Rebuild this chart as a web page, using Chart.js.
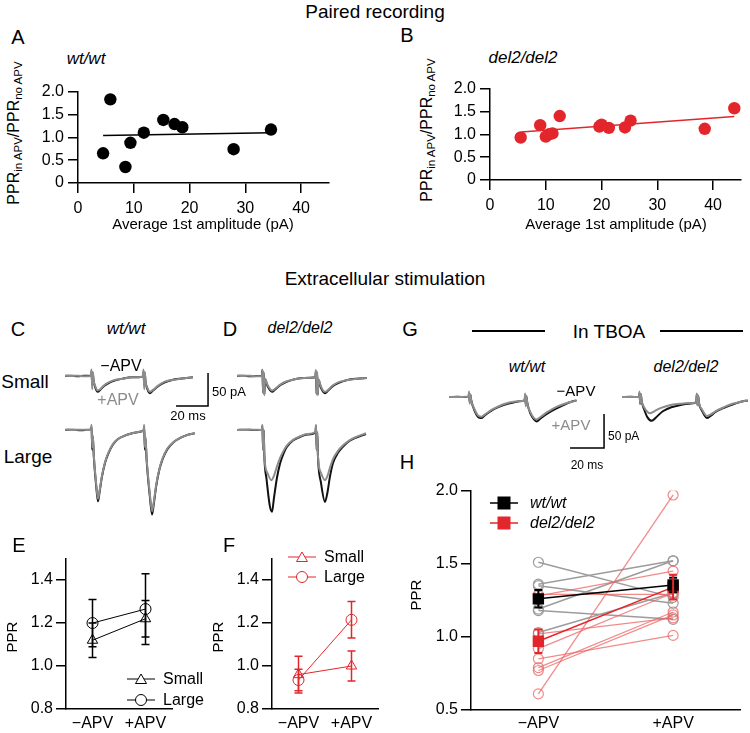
<!DOCTYPE html>
<html><head><meta charset="utf-8">
<script src="https://cdn.jsdelivr.net/npm/chart.js@4/dist/chart.umd.min.js"></script>
<style>
html,body{margin:0;padding:0;background:#fff;}
#root{position:relative;width:750px;height:733px;overflow:hidden;font-family:"Liberation Sans",Arial,sans-serif;color:#000;}
canvas{position:absolute;}
.t{position:absolute;white-space:nowrap;transform:translate(-50%,-50%);line-height:1;}
.l{position:absolute;white-space:nowrap;transform:translate(0,-50%);line-height:1;}
.rot{position:absolute;white-space:nowrap;transform:translate(-50%,-50%) rotate(-90deg);line-height:1;}
.rot sub{font-size:72%;vertical-align:-0.25em;}
svg{position:absolute;overflow:visible;}
</style></head>
<body><div id="root"></div>
<script>
// ---------------- DATA ----------------
// Panel A (wt/wt): average 1st amplitude (pA) vs PPR ratio
const aAmp   = [4.5, 5.8, 8.5, 9.4, 11.8, 15.3, 17.3, 18.7, 27.9, 34.6];
const aRatio = [0.65, 1.83, 0.35, 0.88, 1.10, 1.38, 1.29, 1.22, 0.74, 1.17];
const aFitX  = [4.5, 34.6];
const aFitY  = [1.04, 1.10];
// Panel B (del2/del2)
const bAmp   = [5.5, 9.0, 10.0, 10.6, 11.2, 12.5, 19.6, 20.0, 21.3, 24.2, 25.2, 38.5, 43.8];
const bRatio = [0.93, 1.20, 0.95, 1.00, 1.02, 1.40, 1.17, 1.21, 1.14, 1.15, 1.30, 1.12, 1.57];
const bFitX  = [5.6, 43.8];
const bFitY  = [1.05, 1.39];
const scatterXTicks = [0, 10, 20, 30, 40];
const scatterYTicks = [0, 0.5, 1.0, 1.5, 2.0];

// Traces: [time (ms), current (pA)]
const cSmallBlack = [[0,0],[4,0.5],[8,-0.5],[12,0.5],[16,0],[16.6,6],[17,-14],[17.4,4],[17.8,-6],[19,-18],[20.5,-24],[22,-21],[24,-16],[27,-11],[31,-7],[36,-4],[42,-2],[48.5,-1],[49.1,6],[49.5,-14],[49.9,4],[50.3,-8],[51.5,-20],[53,-26],[55,-22],[58,-16],[62,-10],[67,-6],[72,-4],[76,-3],[80,-2]];
const cSmallGray  = [[0,0.5],[4,0],[8,0.5],[12,-0.5],[16,0],[16.6,10],[17,-20],[17.4,6],[17.8,-5],[19,-16],[20.5,-22],[22,-20],[24,-15],[27,-10],[31,-6],[36,-4],[42,-2],[48.5,-1],[49.1,10],[49.5,-20],[49.9,6],[50.3,-7],[51.5,-18],[53,-24],[55,-21],[58,-15],[62,-9],[67,-6],[72,-4],[76,-3],[80,-2]];
const cLargeBlack = [[0,0],[5,0.5],[10,-0.5],[15,0.5],[16.3,0],[16.6,5],[17,-30],[17.4,-10],[18,-40],[19.5,-85],[20.6,-108],[21.5,-96],[23,-72],[25,-50],[27,-36],[30,-22],[33,-14],[37,-9],[42,-5],[48,-2],[49.2,0],[49.5,5],[49.9,-30],[50.3,-12],[51,-45],[53,-100],[54.4,-128],[55.5,-112],[57,-85],[59,-60],[61,-44],[64,-29],[68,-18],[72,-12],[77,-7],[81,-5]];
const cLargeGray  = [[0,0.5],[5,0],[10,0.5],[15,0],[16.3,0],[16.6,8],[17,-26],[17.4,-8],[18,-38],[19.5,-82],[20.6,-104],[21.5,-94],[23,-71],[25,-49],[27,-35],[30,-21],[33,-14],[37,-9],[42,-5],[48,-2],[49.2,0],[49.5,8],[49.9,-26],[50.3,-10],[51,-42],[53,-96],[54.4,-123],[55.5,-109],[57,-83],[59,-59],[61,-43],[64,-28],[68,-18],[72,-12],[77,-7],[81,-5]];
const dSmallBlack = [[0,0],[4,0.5],[8,-0.5],[12,0],[15.6,0],[15.9,9],[16.3,-25],[16.7,5],[17.1,-28],[17.5,-5],[19,-15],[21.9,-24],[24,-20],[27,-14],[31,-9],[36,-5],[42,-3],[49,-2],[49.3,8],[49.7,-27],[50.1,5],[50.5,-28],[50.9,-6],[52.5,-18],[55,-26],[57,-22],[60,-15],[64,-10],[69,-6],[75,-4],[81,-3]];
const dSmallGray  = [[0,0.5],[4,0],[8,0.5],[12,-0.5],[15.6,0],[15.9,10],[16.3,-26],[16.7,6],[17.1,-29],[17.5,-4],[19,-13],[21.9,-22],[24,-19],[27,-13],[31,-8],[36,-5],[42,-3],[49,-2],[49.3,9],[49.7,-28],[50.1,6],[50.5,-29],[50.9,-5],[52.5,-16],[55,-24],[57,-21],[60,-14],[64,-9],[69,-6],[75,-4],[81,-3]];
const dLargeBlack = [[0,0],[5,0.5],[10,0],[15.5,0.5],[15.9,6],[16.3,-30],[16.7,0],[17.1,-40],[18.5,-75],[20.5,-115],[21.9,-124],[23,-105],[25,-72],[27,-50],[29,-36],[31,-26],[35,-16],[39,-11],[44,-7],[49,-4],[49.4,6],[49.8,-30],[50.2,-4],[50.6,-40],[52.5,-80],[55,-109],[56.5,-95],[58,-72],[60,-50],[63,-35],[66,-26],[70,-17],[75,-11],[80.6,-6]];
const dLargeGray  = [[0,0],[5,0],[10,0.5],[15.5,0],[15.9,8],[16.3,-30],[16.7,0],[17.1,-40],[19,-65],[21.5,-76],[23,-70],[25,-55],[27,-42],[29,-32],[31,-24],[35,-15],[39,-10],[44,-6],[49,-3],[49.4,8],[49.8,-30],[50.2,-3],[50.6,-40],[52.5,-65],[55,-76],[56.5,-70],[58,-58],[60,-44],[63,-32],[66,-24],[70,-16],[75,-10],[80.6,-5]];
const gWtBlack  = [[0,0],[5,0.3],[10,0],[11.5,0],[11.8,6],[12.2,-8],[12.6,3],[13,-4],[15,-20],[17,-29],[19,-31],[21,-27],[25,-20],[29,-15],[33,-11],[38,-8],[43,-6],[44.5,-5],[44.8,3],[45.2,-12],[45.6,0],[46,-8],[48,-25],[50,-33],[51.5,-36],[54,-31],[58,-24],[63,-17],[68,-11],[72,-7],[75,-5]];
const gWtGray   = [[0,0],[5,0],[10,0.3],[11.5,0],[11.8,8],[12.2,-10],[12.6,4],[13,-4],[15,-18],[17,-27],[19,-29],[21,-26],[25,-19],[29,-14],[33,-10],[38,-7],[43,-6],[44.5,-5],[44.8,5],[45.2,-14],[45.6,2],[46,-8],[48,-23],[50,-31],[51.5,-33],[54,-29],[58,-22],[63,-15],[68,-10],[72,-7],[75,-5]];
const gDelBlack = [[0,0],[5,0.3],[10,0],[10.3,6],[10.7,-10],[11.1,4],[11.5,-5],[13,-18],[15,-30],[17.5,-35],[20,-30],[24,-21],[29,-15],[34,-12],[39,-10],[43.7,-8],[44,4],[44.4,-12],[44.8,2],[45.2,-8],[47,-20],[50,-31],[52,-28],[55,-22],[60,-16],[65,-11],[70,-7],[74,-5]];
const gDelGray  = [[0,0],[5,0],[10,0.3],[10.3,8],[10.7,-10],[11.1,4],[11.5,-5],[13,-15],[15,-22],[16.5,-24],[19,-21],[23,-16],[28,-12],[34,-10],[39,-9],[43.7,-8],[44,5],[44.4,-12],[44.8,2],[45.2,-8],[47,-18],[50,-28],[52,-26],[55,-21],[60,-15],[65,-10],[70,-7],[74,-5]];
// Scale bars [time, current]
const cScaleBar = [[69.4,-45.5],[89.4,-45.5],[89.4,4.5]];
const gScaleBar = [[71.2,-75],[91.2,-75],[91.2,-25]];

// Panels E/F
const condLabels = ['\u2212APV', '+APV'];
const eSmall = [1.12, 1.22],  eSmallErr = [0.08, 0.085];
const eLarge = [1.20, 1.265], eLargeErr = [0.11, 0.165];
const fSmall = [0.96, 1.00],  fSmallErr = [0.085, 0.07];
const fLarge = [0.935, 1.215], fLargeErr = [0.05, 0.085];
const efYTicks = [0.8, 1.0, 1.2, 1.4];

// Panel H
const hWtMinus  = [1.51, 1.36, 1.35, 1.19, 1.18, 1.03];
const hWtPlus   = [1.27, 1.52, 1.23, 1.52, 1.12, 1.30];
const hDelMinus = [0.61, 0.77, 0.79, 0.85, 0.92, 1.02, 1.28, 1.29];
const hDelPlus  = [1.97, 1.15, 1.17, 1.01, 1.30, 1.13, 1.45, 1.29];
const hWtMean = [1.26, 1.355],  hWtErr = [0.06, 0.05];
const hDelMean = [0.97, 1.34], hDelErr = [0.08, 0.085];
const hYTicks = [0.5, 1.0, 1.5, 2.0];

// ---------------- SETUP ----------------
const FONT = '"Liberation Sans", Arial, sans-serif';
Chart.defaults.font.family = FONT;
Chart.defaults.font.size = 16;
Chart.defaults.color = '#000';
const RED = '#e3262b', PINK = 'rgba(236,100,100,0.75)', GRAYL = '#9c9c9c', TGRAY = '#8c8c8c';
const TICKFONT = {size: 16, family: FONT};
const root = document.getElementById('root');

function mkCanvas(left, top, w, h) {
  const c = document.createElement('canvas');
  c.width = w; c.height = h;
  c.style.left = left + 'px'; c.style.top = top + 'px';
  c.style.width = w + 'px'; c.style.height = h + 'px';
  root.appendChild(c);
  return c;
}
function txt(s, x, y, size, opts = {}) {
  const d = document.createElement('div');
  d.className = opts.cls || 't';
  d.style.left = x + 'px'; d.style.top = y + 'px';
  d.style.fontSize = size + 'px';
  if (opts.italic) d.style.fontStyle = 'italic';
  if (opts.color) d.style.color = opts.color;
  if (opts.html) d.innerHTML = s; else d.textContent = s;
  root.appendChild(d);
  return d;
}
function svg(x, y, w, h, inner) {
  const ns = 'http://www.w3.org/2000/svg';
  const s = document.createElementNS(ns, 'svg');
  s.setAttribute('width', w); s.setAttribute('height', h);
  s.style.left = x + 'px'; s.style.top = y + 'px';
  s.innerHTML = inner;
  root.appendChild(s);
}
const pts = arr => arr.map(([x, y]) => ({x, y}));
const zip = (xs, ys) => xs.map((x, i) => ({x, y: ys[i]}));

const errPlugin = {
  id: 'errbars',
  afterDatasetsDraw(chart) {
    const ctx = chart.ctx, ys = chart.scales.y;
    chart.data.datasets.forEach((ds, i) => {
      if (!ds.errors) return;
      const meta = chart.getDatasetMeta(i);
      ctx.save();
      ctx.strokeStyle = ds.errColor || ds.borderColor;
      ctx.lineWidth = ds.errWidth || 1.5;
      meta.data.forEach((p, j) => {
        const v = ds.data[j], e = ds.errors[j];
        const y1 = ys.getPixelForValue(v + e), y2 = ys.getPixelForValue(v - e);
        const cw = ds.capW || 4;
        ctx.beginPath();
        ctx.moveTo(p.x, y1); ctx.lineTo(p.x, y2);
        ctx.moveTo(p.x - cw, y1); ctx.lineTo(p.x + cw, y1);
        ctx.moveTo(p.x - cw, y2); ctx.lineTo(p.x + cw, y2);
        ctx.stroke();
      });
      ctx.restore();
    });
  }
};

const base = {responsive: false, animation: false, events: [],
  plugins: {legend: {display: false}, tooltip: {enabled: false}}};

function axisCommon(extra, pad) {
  return Object.assign({
    grid: {drawOnChartArea: false, drawTicks: true, tickLength: 10, color: '#000', lineWidth: 1.5},
    border: {color: '#000', width: 1.5},
    ticks: {color: '#000', font: TICKFONT, padding: pad, maxRotation: 0, autoSkip: false}
  }, extra);
}

// ---------- Scatter panels A & B ----------
function scatterPanel(left, top, xs, ys, fx, fy, color) {
  const c = mkCanvas(left, top, 50 + 251 + 8, 10 + 95 + 40);
  new Chart(c, {
    type: 'scatter',
    data: {datasets: [
      {data: zip(xs, ys), pointRadius: 6.2, pointBackgroundColor: color, pointBorderColor: color, pointBorderWidth: 0},
      {data: zip(fx, fy), showLine: true, borderColor: color, borderWidth: 1.5, pointRadius: 0}
    ]},
    options: Object.assign({}, base, {
      layout: {padding: {top: 10, right: 8, left: 0, bottom: 0}},
      scales: {
        x: axisCommon({type: 'linear', min: 0, max: 45,
          afterBuildTicks: s => { s.ticks = scatterXTicks.map(v => ({value: v})); },
          afterFit: s => { s.height = 40; }}, 6),
        y: axisCommon({type: 'linear', min: 0, max: 2,
          afterBuildTicks: s => { s.ticks = scatterYTicks.map(v => ({value: v})); },
          afterFit: s => { s.width = 50; }}, 4)
      }
    })
  });
}
scatterPanel(28, 78, aAmp, aRatio, aFitX, aFitY, '#000');
scatterPanel(440, 75, bAmp, bRatio, bFitX, bFitY, RED);

// ---------- Trace panels ----------
function tracePanel(left, top, w, h, x0, y0, pxT, pxI, sets) {
  const c = mkCanvas(left, top, w, h);
  new Chart(c, {
    type: 'line',
    data: {datasets: sets.map(s => ({
      data: pts(s.d), borderColor: s.c, borderWidth: s.w || 2, pointRadius: 0,
      cubicInterpolationMode: s.bar ? 'default' : 'monotone', tension: 0, fill: false
    }))},
    options: Object.assign({}, base, {
      layout: {padding: 0},
      scales: {
        x: {type: 'linear', display: false, min: (left - x0) / pxT, max: (left + w - x0) / pxT},
        y: {type: 'linear', display: false, min: -(top + h - y0) / pxI, max: (y0 - top) / pxI}
      }
    })
  });
}
const CT = 1.6, CI = 0.66, GT = 1.7, GI = 0.68;
tracePanel(58, 352, 160, 62, 65, 376, CT, CI, [
  {d: cSmallGray, c: TGRAY}, {d: cSmallBlack, c: '#111'}, {d: cScaleBar, c: '#000', w: 1.5, bar: true}]);
tracePanel(58, 418, 145, 102, 65, 430, CT, CI, [
  {d: cLargeGray, c: TGRAY}, {d: cLargeBlack, c: '#111'}]);
tracePanel(230, 352, 145, 50, 237, 376, CT, CI, [
  {d: dSmallGray, c: TGRAY}, {d: dSmallBlack, c: '#111'}]);
tracePanel(230, 418, 145, 102, 237, 430, CT, CI, [
  {d: dLargeGray, c: TGRAY}, {d: dLargeBlack, c: '#111'}]);
tracePanel(442, 380, 170, 75, 449, 397, GT, GI, [
  {d: gWtGray, c: TGRAY}, {d: gWtBlack, c: '#111'}, {d: gScaleBar, c: '#000', w: 1.5, bar: true}]);
tracePanel(615, 380, 135, 50, 622, 397, GT, GI, [
  {d: gDelGray, c: TGRAY}, {d: gDelBlack, c: '#111'}]);

// ---------- E & F ----------
function ppPanel(left, color, small, smallErr, large, largeErr) {
  const c = mkCanvas(left, 546, 50 + 107 + 6, 10 + 153 + 24);
  const mk = (d, e, style, r) => ({data: d, errors: e, borderColor: color, borderWidth: 1,
    pointStyle: style, pointRadius: r, pointBorderColor: color, pointBorderWidth: 1,
    pointBackgroundColor: 'rgba(255,255,255,0)', errWidth: 1.5, capW: 4});
  new Chart(c, {
    type: 'line',
    data: {labels: condLabels, datasets: [mk(small, smallErr, 'triangle', 6), mk(large, largeErr, 'circle', 5.5)]},
    options: Object.assign({}, base, {
      layout: {padding: {top: 10, right: 6}},
      scales: {
        x: axisCommon({type: 'category', offset: true,
          grid: {drawOnChartArea: false, drawTicks: false, color: '#000'},
          afterFit: s => { s.height = 24; }}, 5),
        y: axisCommon({type: 'linear', min: 0.8, max: 1.5,
          afterBuildTicks: s => { s.ticks = efYTicks.map(v => ({value: v})); },
          afterFit: s => { s.width = 50; }}, 3)
      }
    }),
    plugins: [errPlugin]
  });
}
ppPanel(16, '#000', eSmall, eSmallErr, eLarge, eLargeErr);
ppPanel(222, RED, fSmall, fSmallErr, fLarge, fLargeErr);

// ---------- H ----------
(function () {
  const c = mkCanvas(421, 478, 50 + 274 + 4, 10 + 222 + 23);
  const ds = [];
  ds.push({data: hWtMean, errors: hWtErr, borderColor: '#000', borderWidth: 1.5, pointStyle: 'rect', pointRadius: 7,
    pointBackgroundColor: '#000', pointBorderColor: '#000', errWidth: 2, capW: 4, order: 0});
  ds.push({data: hDelMean, errors: hDelErr, borderColor: RED, borderWidth: 1.5, pointStyle: 'rect', pointRadius: 7,
    pointBackgroundColor: RED, pointBorderColor: RED, errWidth: 2, capW: 4, order: 0});
  hDelMinus.forEach((v, i) => ds.push({data: [v, hDelPlus[i]], borderColor: PINK, borderWidth: 1.3, pointRadius: 5,
    pointBorderColor: PINK, pointBorderWidth: 1.2, pointBackgroundColor: 'rgba(0,0,0,0)', order: 1}));
  hWtMinus.forEach((v, i) => ds.push({data: [v, hWtPlus[i]], borderColor: GRAYL, borderWidth: 1.5, pointRadius: 5,
    pointBorderColor: GRAYL, pointBorderWidth: 1.2, pointBackgroundColor: 'rgba(0,0,0,0)', order: 2}));
  new Chart(c, {
    type: 'line',
    data: {labels: condLabels, datasets: ds},
    options: Object.assign({}, base, {
      layout: {padding: {top: 10, right: 4}},
      scales: {
        x: axisCommon({type: 'category', offset: true,
          grid: {drawOnChartArea: false, drawTicks: false, color: '#000'},
          afterFit: s => { s.height = 23; }}, 4),
        y: axisCommon({type: 'linear', min: 0.5, max: 2.0,
          afterBuildTicks: s => { s.ticks = hYTicks.map(v => ({value: v})); },
          afterFit: s => { s.width = 50; }}, 3)
      }
    }),
    plugins: [errPlugin]
  });
})();

// ---------------- TEXT ----------------
txt('Paired recording', 375, 11, 19);
txt('A', 18, 37, 20); txt('B', 407, 35, 20);
txt('wt/wt', 86, 58, 17, {italic: true});
txt('del2/del2', 523, 57, 17, {italic: true});
const ratioLbl = 'PPR<sub>in APV</sub>/PPR<sub>no APV</sub>';
txt(ratioLbl, 15, 133, 16, {cls: 'rot', html: true});
txt(ratioLbl, 428, 130, 16, {cls: 'rot', html: true});
txt('Average 1st amplitude (pA)', 203, 223, 15);
txt('Average 1st amplitude (pA)', 616, 223, 15);

txt('Extracellular stimulation', 385, 278, 19);
txt('C', 18, 329, 20); txt('D', 230, 329, 20); txt('G', 410, 329, 20);
txt('wt/wt', 126, 328, 17, {italic: true});
txt('del2/del2', 300, 328, 16, {italic: true});
txt('In TBOA', 609, 331, 19);
svg(472, 330, 280, 4, '<line x1="0" y1="1" x2="73" y2="1" stroke="#000" stroke-width="2"/><line x1="188" y1="1" x2="271" y2="1" stroke="#000" stroke-width="2"/>');
txt('Small', 25, 381, 19); txt('Large', 28, 456, 19);
txt('\u2212APV', 121, 366, 16);
txt('+APV', 118, 400, 16, {color: TGRAY});
txt('50 pA', 212, 391, 13, {cls: 'l'});
txt('20 ms', 188, 415, 13);
txt('wt/wt', 527, 367, 16, {italic: true});
txt('del2/del2', 686, 367, 16, {italic: true});
txt('\u2212APV', 576, 390, 15);
txt('+APV', 571, 424, 15, {color: TGRAY});
txt('50 pA', 608, 436, 12, {cls: 'l'});
txt('20 ms', 587, 465, 12);

txt('E', 19, 545, 20); txt('F', 229, 545, 20); txt('H', 407, 462, 20);
txt('PPR', 11, 637, 15, {cls: 'rot'});
txt('PPR', 217, 637, 15, {cls: 'rot'});
txt('PPR', 415, 595, 15, {cls: 'rot'});

// legends
function legSym(x, y, color, shape) {
  let m = '';
  if (shape === 'tri') m = `<polygon points="14,-5 19.5,4.5 8.5,4.5" fill="#fff" stroke="${color}" stroke-width="1"/>`;
  if (shape === 'circ') m = `<circle cx="14" cy="0" r="5.5" fill="#fff" stroke="${color}" stroke-width="1"/>`;
  if (shape === 'sq') m = `<rect x="7.5" y="-6.5" width="13" height="13" fill="${color}"/>`;
  svg(x, y, 28, 1, `<line x1="0" y1="0" x2="28" y2="0" stroke="${color}" stroke-width="${shape === 'sq' ? 1.5 : 1}"/>${m}`);
}
legSym(127, 679, '#000', 'tri'); txt('Small', 163, 679, 16, {cls: 'l'});
legSym(127, 700, '#000', 'circ'); txt('Large', 163, 700, 16, {cls: 'l'});
legSym(288, 557, RED, 'tri'); txt('Small', 324, 557, 16, {cls: 'l'});
legSym(288, 577, RED, 'circ'); txt('Large', 324, 577, 16, {cls: 'l'});
legSym(490, 503, '#000', 'sq'); txt('wt/wt', 530, 503, 16, {cls: 'l', italic: true});
legSym(490, 523, RED, 'sq'); txt('del2/del2', 530, 523, 16, {cls: 'l', italic: true});
</script>
</body></html>
